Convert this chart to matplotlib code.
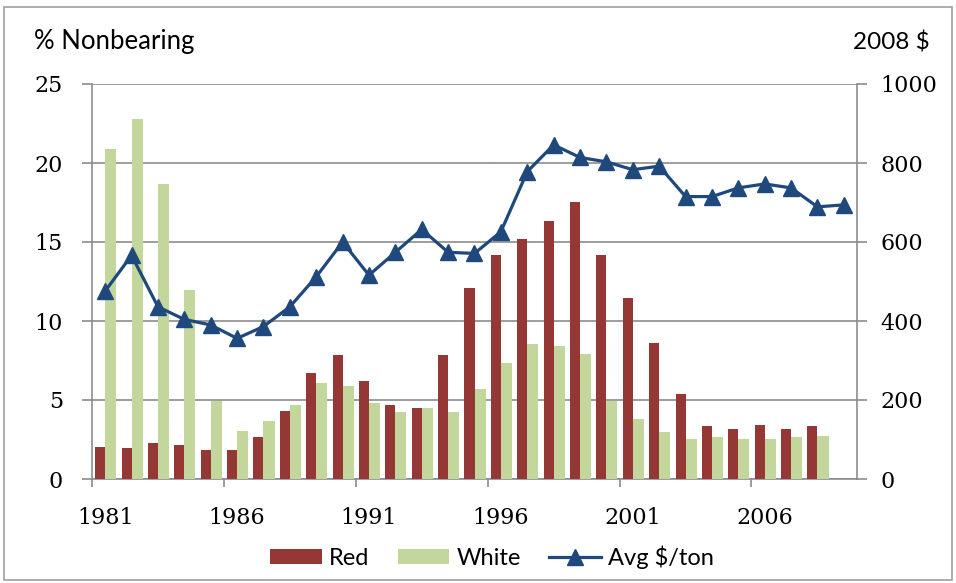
import matplotlib
matplotlib.use("Agg")
import matplotlib.pyplot as plt
import numpy as np
from matplotlib.lines import Line2D
from matplotlib.patches import Patch, Rectangle

years = list(range(1981, 2010))
red = [2.05, 1.94, 2.26, 2.15, 1.84, 1.84, 2.64, 4.3, 6.69, 7.83,
       6.2, 4.66, 4.47, 7.83, 12.07, 14.18, 15.2, 16.3, 17.53, 14.18,
       11.48, 8.63, 5.38, 3.35, 3.14, 3.44, 3.14, 3.35]
white = [20.9, 22.8, 18.65, 11.96, 4.96, 3.06, 3.67, 4.68, 6.1, 5.89,
         4.79, 4.26, 4.47, 4.26, 5.67, 7.32, 8.52, 8.44, 7.93, 4.96,
         3.78, 2.95, 2.53, 2.64, 2.53, 2.53, 2.64, 2.74]
avg_price = [476, 566, 436, 404, 390, 356, 386, 436, 512, 600,
             516, 574, 632, 574, 571, 626, 778, 846, 814, 803,
             783, 792, 715, 715, 737, 747, 737, 689, 694]
xlabels = ["1981", "1986", "1991", "1996", "2001", "2006"]

RED = "#953735"
WHITE = "#C3D69B"
BLUE = "#1F497D"
GRID = "#8C8C8C"
SANS = "Lato"
SERIF = "DejaVu Serif"
TICKSIZE = 16

plt.rcParams['font.family'] = [SANS, 'DejaVu Sans']

fig = plt.figure(figsize=(9.56, 5.83), dpi=100)
ax = fig.add_axes([92/956, 1 - 479/583, (857-92)/956, (479-84)/583])
ax2 = ax.twinx()

x = np.arange(len(years))
xb = np.arange(len(red))
ax.bar(xb - 0.19, red, width=0.38, color=RED, zorder=3)
ax.bar(xb + 0.21, white, width=0.42, color=WHITE, zorder=3)

ax.set_xlim(-0.5, len(years) - 0.5)
ax.set_ylim(0, 25)
ax.set_yticks([0, 5, 10, 15, 20, 25])
ax.grid(axis='y', color=GRID, linewidth=1.2, zorder=0)
ax.set_axisbelow(True)

ax.set_xticks([0, 5, 10, 15, 20, 25])
ax.set_xticklabels(xlabels)
ax.set_xticks(np.arange(-0.5, len(years), 5), minor=True)
ax.tick_params(axis='x', which='major', length=0, pad=20)
ax.tick_params(axis='x', which='minor', length=6, color=GRID, width=1.2)
ax.tick_params(axis='y', length=7, color=GRID, width=1.2, pad=14)

ax2.plot(x, avg_price, color=BLUE, linewidth=2.3, marker='^', markersize=12,
         markerfacecolor=BLUE, markeredgecolor=BLUE, zorder=5)
ax2.set_ylim(0, 1000)
ax2.set_yticks([0, 200, 400, 600, 800, 1000])
ax2.tick_params(axis='y', length=7, color=GRID, width=1.2, pad=10)

for lbl in ax.get_xticklabels() + ax.get_yticklabels() + ax2.get_yticklabels():
    lbl.set_fontfamily(SERIF)
    lbl.set_fontsize(TICKSIZE)

for a in (ax, ax2):
    a.spines['top'].set_visible(False)
    for s in ('left', 'right', 'bottom'):
        a.spines[s].set_color(GRID)
        a.spines[s].set_linewidth(1.2)
ax.spines['right'].set_visible(False)
ax2.spines['left'].set_visible(False)
ax2.spines['bottom'].set_visible(False)

fig.text(34/956, 1 - 42/583, "% Nonbearing", fontsize=18.5, ha='left', va='center')
fig.text(930/956, 1 - 42/583, "2008 $", fontsize=17.5, ha='right', va='center')

handles = [Patch(facecolor=RED, edgecolor='none', label='Red'),
           Patch(facecolor=WHITE, edgecolor='none', label='White'),
           Line2D([0], [0], color=BLUE, linewidth=2.3, marker='^', markersize=11, label='Avg $/ton')]
fig.legend(handles=handles, loc='center', bbox_to_anchor=(492/956, 1 - 557/583), ncol=3,
           frameon=False, fontsize=17, handlelength=2.2, handleheight=0.55,
           columnspacing=1.2, handletextpad=0.3)

fig.patches.append(Rectangle((4/956, 3/583), 948/956, 573/583, transform=fig.transFigure,
                             fill=False, edgecolor='#A0A0A0', linewidth=1.2))

fig.savefig("out.png", dpi=100)
